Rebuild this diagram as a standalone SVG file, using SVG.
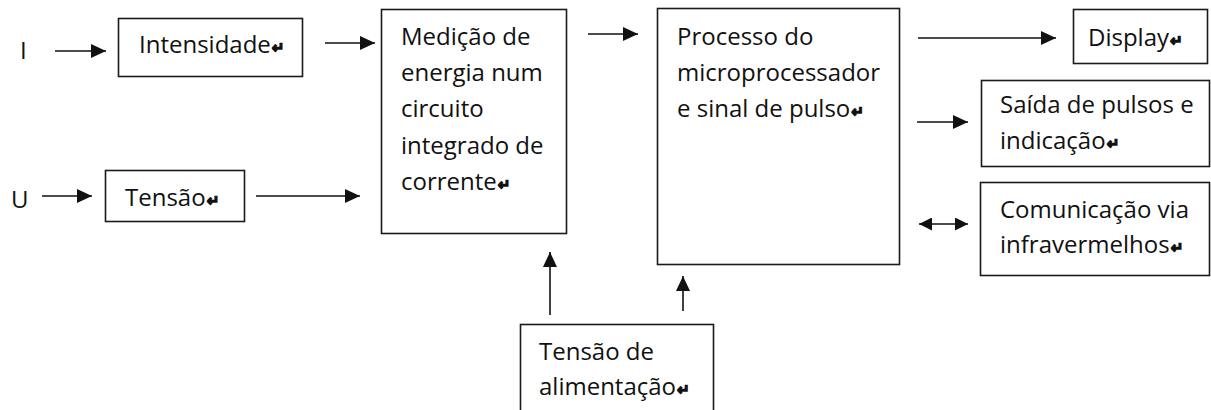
<svg xmlns="http://www.w3.org/2000/svg" width="1211" height="410" viewBox="0 0 1211 410">
<style>
  .box{fill:#fff;stroke:#1a1a1a;stroke-width:1.6}
  .t{font-family:"Open Sans","Noto Sans","DejaVu Sans",sans-serif;font-size:24px;fill:#111}
  .r{font-family:"DejaVu Sans",sans-serif;font-weight:bold;font-size:15px;stroke:#111;stroke-width:1.3}
  .c line{stroke:#111;stroke-width:1.6}
</style>
<defs>
  <marker id="ah" markerUnits="userSpaceOnUse" markerWidth="15" markerHeight="14" refX="15" refY="7" orient="auto-start-reverse">
    <path d="M0,0 L15,7 L0,14 z" fill="#111"/>
  </marker>
  <marker id="ahs" markerUnits="userSpaceOnUse" markerWidth="13" markerHeight="13" refX="13" refY="6.5" orient="auto-start-reverse">
    <path d="M0,0 L13,6.5 L0,13 z" fill="#111"/>
  </marker>
</defs>
<rect width="1211" height="410" fill="#fff"/>

<g id="label-I"><text class="t" x="20" y="59">I</text></g>
<g id="label-U"><text class="t" x="11" y="208">U</text></g>

<g id="intensidade">
  <rect class="box" x="118.5" y="18.5" width="184" height="58"/>
  <text class="t" x="139" y="53">Intensidade<tspan class="r" dx="1">↵</tspan></text>
</g>
<g id="tensao">
  <rect class="box" x="105.5" y="170.5" width="139" height="51"/>
  <text class="t" x="125" y="206">Tensão<tspan class="r" dx="1">↵</tspan></text>
</g>
<g id="medicao">
  <rect class="box" x="381.5" y="9.5" width="185" height="224"/>
  <text class="t" x="401" y="45">Medição de</text>
  <text class="t" x="401" y="81">energia num</text>
  <text class="t" x="401" y="117">circuito</text>
  <text class="t" x="401" y="154">integrado de</text>
  <text class="t" x="401" y="190">corrente<tspan class="r" dx="1">↵</tspan></text>
</g>
<g id="processo">
  <rect class="box" x="657.5" y="8.5" width="242" height="256"/>
  <text class="t" x="677" y="45">Processo do</text>
  <text class="t" x="677" y="81">microprocessador</text>
  <text class="t" x="677" y="117">e sinal de pulso<tspan class="r" dx="1">↵</tspan></text>
</g>
<g id="display">
  <rect class="box" x="1073.5" y="9.5" width="134" height="54"/>
  <text class="t" x="1088" y="46">Display<tspan class="r" dx="1">↵</tspan></text>
</g>
<g id="saida">
  <rect class="box" x="981.5" y="80.5" width="228" height="86"/>
  <text class="t" x="1000" y="113">Saída de pulsos e</text>
  <text class="t" x="1000" y="149">indicação<tspan class="r" dx="1">↵</tspan></text>
</g>
<g id="comunicacao">
  <rect class="box" x="980.5" y="182.5" width="229" height="93"/>
  <text class="t" x="1000" y="218">Comunicação via</text>
  <text class="t" x="1000" y="253">infravermelhos<tspan class="r" dx="1">↵</tspan></text>
</g>
<g id="alimentacao">
  <rect class="box" x="520.5" y="324.5" width="193" height="100"/>
  <text class="t" x="539" y="360">Tensão de</text>
  <text class="t" x="539" y="395">alimentação<tspan class="r" dx="1">↵</tspan></text>
</g>

<g id="connectors" class="c">
  <line x1="55" y1="51" x2="106" y2="51" marker-end="url(#ah)"/>
  <line x1="325" y1="43" x2="375" y2="43" marker-end="url(#ah)"/>
  <line x1="42" y1="196" x2="92" y2="196" marker-end="url(#ah)"/>
  <line x1="256" y1="196" x2="360" y2="196" marker-end="url(#ah)"/>
  <line x1="588" y1="34" x2="638" y2="34" marker-end="url(#ah)"/>
  <line x1="918" y1="38" x2="1056" y2="38" marker-end="url(#ah)"/>
  <line x1="917" y1="122" x2="968" y2="122" marker-end="url(#ah)"/>
  <line x1="919" y1="224" x2="968" y2="224" marker-start="url(#ahs)" marker-end="url(#ahs)"/>
  <line x1="550" y1="315" x2="550" y2="252" marker-end="url(#ah)"/>
  <line x1="683" y1="311" x2="683" y2="276" marker-end="url(#ah)"/>
</g>
</svg>
